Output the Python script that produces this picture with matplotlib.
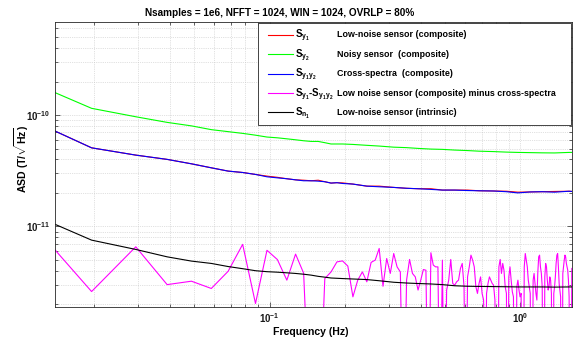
import numpy as np
import matplotlib
matplotlib.use("Agg")
import matplotlib.pyplot as plt
from matplotlib.ticker import FixedLocator, LogLocator, FuncFormatter, NullFormatter
from matplotlib.legend_handler import HandlerLine2D


plt.rcParams["font.family"     ] = ["Liberation Sans", "DejaVu Sans"]
plt.rcParams["font.size"       ] = 7
plt.rcParams["font.weight"     ] = "bold"
plt.rcParams["mathtext.fontset"] = "custom"
plt.rcParams["mathtext.rm"     ] = "Liberation Sans:bold"
plt.rcParams["mathtext.bf"     ] = "Liberation Sans:bold"
plt.rcParams["mathtext.it"     ] = "Liberation Sans:bold"
plt.rcParams["mathtext.default"] = "rm"


# frequency resolution (Hz) of the spectra, bins are k * DF
DF = 0.009766

# labelled decades
x_ticks = [0.1, 1.0]
y_ticks = [1e-11, 1e-10]

# smooth curves: bin index and ASD values
k_grid = [1, 2, 3, 4, 5, 6, 7, 8, 9, 10, 11, 12, 13, 14, 15, 16, 17, 18, 19, 20,
          22, 25, 28, 32, 36, 40, 45, 50, 56, 63, 70, 80, 90, 100, 112, 125, 140, 160, 165]

sy2 = [22.5, 11.5, 9.66, 8.6, 8.0, 7.4, 7.1, 6.85, 6.6, 6.35, 6.25, 6.12, 6.0, 5.88, 5.8,
       5.8, 5.65, 5.5, 5.5, 5.5, 5.45, 5.35, 5.27, 5.15, 5.1, 5.02, 4.95, 4.92, 4.85, 4.8,
       4.74, 4.7, 4.65, 4.62, 4.6, 4.58, 4.57, 4.62, 4.62]            # x 1e-11

sy1y2 = [10.4, 5.08, 4.37, 4.0, 3.65, 3.36, 3.14, 3.05, 2.93, 2.79, 2.73, 2.68, 2.62, 2.57,
         2.57, 2.55, 2.52, 2.45, 2.47, 2.43, 2.40, 2.30, 2.27, 2.24, 2.20, 2.18, 2.15, 2.12,
         2.12, 2.10, 2.09, 2.08, 2.05, 2.00, 2.04, 2.05, 2.03, 2.07, 2.06]   # x 1e-11

sy1 = [10.4, 5.08, 4.37, 4.0, 3.65, 3.36, 3.14, 3.05, 2.93, 2.83, 2.76, 2.68, 2.62, 2.60,
       2.57, 2.60, 2.52, 2.45, 2.47, 2.46, 2.40, 2.30, 2.30, 2.24, 2.20, 2.18, 2.18, 2.12,
       2.12, 2.12, 2.09, 2.08, 2.07, 2.03, 2.04, 2.05, 2.06, 2.07, 2.06]     # x 1e-11

sn1 = [14.8, 7.53, 6.21, 5.33, 4.88, 4.65, 4.36, 4.17, 4.0, 3.92, 3.88, 3.83, 3.78, 3.72,
       3.65, 3.56, 3.5, 3.44, 3.42, 3.4, 3.37, 3.33, 3.25, 3.15, 3.1, 3.07, 3.04, 3.0,
       2.93, 2.9, 2.89, 2.88, 2.87, 2.86, 2.86, 2.86, 2.85, 2.86, 2.86]      # x 1e-12

# difference spectrum, every bin k = 1..165 (x 1e-12); 0.1 = dips below the axis
diff = [15.4, 2.6, 6.56, 3.0, 3.22, 2.77, 3.95, 6.9, 2.03, 6.1,
        5.04, 3.29, 5.64, 3.8, 0.1, 0.1, 3.4, 3.9, 4.8, 4.9,
        4.4, 2.33, 3.29, 3.9, 3.18, 4.75, 4.98, 6.34, 2.9, 5.15,
        3.78, 5.71, 4.33, 3.9, 0.1, 3.29, 5.05, 3.78, 3.52, 2.68,
        3.29, 4.1, 4.04, 0.1, 5.8, 4.49, 4.33, 4.33, 0.1, 4.98,
        0.1, 2.68, 3.29, 5.05, 3.07, 2.97, 3.18, 3.29, 4.18, 4.65,
        2.87, 0.1, 3.52, 4.33, 5.52, 4.98, 4.33, 2.87, 2.5, 3.07,
        3.52, 2.5, 2.18, 0.1, 2.5, 3.07, 3.52, 3.29, 3.07, 2.97,
        2.18, 0.1, 0.1, 4.33, 5.05, 3.78, 4.65, 4.04, 2.87, 2.5,
        0.1, 3.52, 4.33, 3.29, 2.59, 2.33, 0.1, 0.1, 2.87, 3.29,
        2.68, 2.33, 2.5, 0.1, 0.1, 4.33, 5.71, 4.98, 4.33, 3.29,
        2.87, 2.5, 0.1, 0.1, 3.29, 3.78, 3.07, 2.5, 2.18, 3.78,
        5.33, 5.52, 4.33, 3.78, 2.87, 0.1, 0.1, 3.52, 4.65, 4.33,
        3.29, 2.68, 2.87, 3.52, 3.29, 2.5, 0.1, 0.1, 2.5, 2.87,
        3.52, 4.65, 5.52, 5.71, 4.33, 3.07, 2.68, 2.33, 0.1, 0.1,
        3.78, 4.33, 4.98, 5.52, 5.33, 4.65, 4.33, 4.04, 3.29, 2.33,
        0.1, 0.1, 0.1, 4.2, 4.2]

labels = [r"$S_{y_1}$", r"$S_{y_2}$", r"$S_{y_1y_2}$", r"$S_{y_1}$-$S_{y_1y_2}$", r"$S_{n_1}$"]
descriptions = ["Low-noise sensor (composite)",
                "Noisy sensor  (composite)",
                "Cross-spectra  (composite)",
                "Low noise sensor (composite) minus cross-spectra",
                "Low-noise sensor (intrinsic)"]
title = "Nsamples = 1e6, NFFT = 1024, WIN = 1024, OVRLP = 80%"


def main():
    f_grid = DF * np.array(k_grid)
    f_diff = DF * np.arange(1, len(diff) + 1)

    fig = plt.figure(figsize=(5.79, 3.43), dpi=100)
    ax = fig.add_axes([55.3 / 579, 1 - 306.7 / 343, 516.4 / 579, 285.0 / 343])

    lw = 0.8
    h1, = ax.plot(f_grid, np.array(sy1) * 1e-11, color=(1, 0, 0), lw=lw)
    h2, = ax.plot(f_grid, np.array(sy2) * 1e-11, color=(0, 1, 0), lw=lw)
    h3, = ax.plot(f_grid, np.array(sy1y2) * 1e-11, color=(0, 0, 1), lw=lw)
    h4, = ax.plot(f_diff, np.array(diff) * 1e-12, color=(1, 0, 1), lw=lw)
    h5, = ax.plot(f_grid, np.array(sn1) * 1e-12, color="k", lw=lw)

    ax.set_xscale("log")
    ax.set_yscale("log")
    ax.set_xlim(0.0140, 1.60)
    ax.set_ylim(1.9e-12, 6.9e-10)

    fmt = FuncFormatter(lambda v, p: r"$10^{%d}$" % round(np.log10(v)))
    for axis, ticks in ((ax.xaxis, x_ticks), (ax.yaxis, y_ticks)):
        axis.set_major_locator(FixedLocator(ticks))
        axis.set_minor_locator(LogLocator(base=10, subs=np.arange(2, 10)))
        axis.set_major_formatter(fmt)
        axis.set_minor_formatter(NullFormatter())
        axis.get_offset_text().set_visible(False)

    ax.tick_params(which="both", direction="in", top=True, right=True,
                   width=0.5, colors="0.15", labelcolor="0.1", labelsize=7)
    ax.tick_params(which="major", length=3.5)
    ax.tick_params(which="minor", length=2)
    ax.grid(which="both", linestyle=":", linewidth=0.5, color="#c4c4c4")
    for s in ax.spines.values():
        s.set_linewidth(0.6)
        s.set_color("0.15")

    ax.set_xlabel("Frequency (Hz)", fontsize=7.6, fontweight="bold")
    ax.set_ylabel(r"ASD (T/$\sqrt{Hz}$)", fontsize=7.6, fontweight="bold")
    ax.xaxis.set_label_coords(0.494, -0.072)
    ax.yaxis.set_label_coords(-0.048, 0.52)
    fig.text(280 / 579, 1 - 12.7 / 343, title, ha="center", va="center",
             fontsize=7.2, fontweight="bold")

    leg = ax.legend([h1, h2, h3, h4, h5], labels, loc="upper left",
                    bbox_to_anchor=(0.393, 0.0, 0.6055, 0.9944), mode="expand",
                    borderaxespad=0, fancybox=False, edgecolor="0.15", framealpha=1,
                    handlelength=3.12, handletextpad=0.2, labelspacing=0.32,
                    borderpad=0.45, fontsize=7,
                    handler_map={matplotlib.lines.Line2D: HandlerLine2D(xpad=0.55)})
    leg.get_frame().set_linewidth(0.6)

    # description column next to the symbols
    fig.canvas.draw()
    renderer = fig.canvas.get_renderer()
    for line, desc in zip(leg.get_lines(), descriptions):
        bb = line.get_window_extent(renderer)
        yc = 0.5 * (bb.y0 + bb.y1) / fig.bbox.height
        fig.text(337 / 579, yc, desc, ha="left", va="center", fontsize=6.4,
                 fontweight="bold")

    fig.savefig("out.png", dpi=100)


if __name__ == "__main__":
    main()
